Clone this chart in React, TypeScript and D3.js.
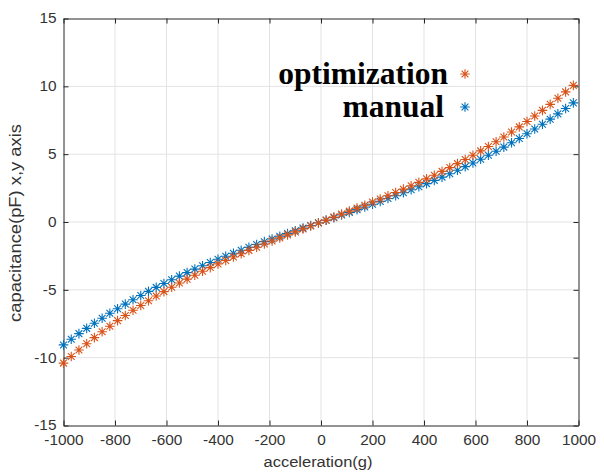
import { useEffect, useRef } from "react";
import * as d3 from "d3";

// acceleration samples (g)
const accel: number[] = [
  -1000, -970, -940, -910, -880, -850, -820, -790, -760, -730, -700, -670,
  -640, -610, -580, -550, -520, -490, -460, -430, -400, -370, -340, -310,
  -280, -250, -220, -190, -160, -130, -100, -70, -40, -10, 20, 50, 80, 110,
  140, 170, 200, 230, 260, 290, 320, 350, 380, 410, 440, 470, 500, 530, 560,
  590, 620, 650, 680, 710, 740, 770, 800, 830, 860, 890, 920, 950, 980,
];

// capacitance (pF), optimization design
const optimization: number[] = [
  -10.4, -9.91, -9.43, -8.97, -8.52, -8.09, -7.68, -7.27, -6.89, -6.51, -6.15,
  -5.8, -5.46, -5.13, -4.81, -4.5, -4.21, -3.92, -3.63, -3.36, -3.09, -2.84,
  -2.58, -2.34, -2.09, -1.86, -1.62, -1.4, -1.17, -0.95, -0.73, -0.51, -0.29,
  -0.07, 0.14, 0.36, 0.58, 0.8, 1.02, 1.24, 1.47, 1.7, 1.94, 2.17, 2.42, 2.67,
  2.92, 3.18, 3.45, 3.73, 4.01, 4.3, 4.61, 4.92, 5.24, 5.57, 5.91, 6.27, 6.63,
  7.01, 7.41, 7.81, 8.23, 8.67, 9.12, 9.59, 10.07,
];

// capacitance (pF), manual design
const manual: number[] = [
  -9.06, -8.64, -8.23, -7.84, -7.46, -7.09, -6.73, -6.39, -6.05, -5.73, -5.42,
  -5.11, -4.82, -4.53, -4.26, -3.99, -3.73, -3.47, -3.23, -2.99, -2.75, -2.52,
  -2.3, -2.08, -1.87, -1.66, -1.45, -1.25, -1.05, -0.85, -0.65, -0.45, -0.26,
  -0.06, 0.13, 0.32, 0.52, 0.71, 0.91, 1.11, 1.31, 1.52, 1.73, 1.94, 2.16,
  2.38, 2.6, 2.83, 3.07, 3.31, 3.56, 3.81, 4.08, 4.35, 4.63, 4.92, 5.21, 5.52,
  5.84, 6.16, 6.5, 6.85, 7.21, 7.58, 7.97, 8.37, 8.78,
];

const xTicks = [-1000, -800, -600, -400, -200, 0, 200, 400, 600, 800, 1000];
const yTicks = [-15, -10, -5, 0, 5, 10, 15];
const legendLabels = ["optimization", "manual"];

const RED = "#D95319";
const BLUE = "#0072BD";
const AXIS = "#262626";

const App = () => {
  const svgRef = useRef<SVGSVGElement>(null);

  useEffect(() => {
    const width = 604;
    const height = 472;
    const margin = { top: 18.5, right: 25.5, bottom: 46.5, left: 63.5 };
    const innerWidth = width - margin.left - margin.right;
    const innerHeight = height - margin.top - margin.bottom;

    d3.select(svgRef.current).selectAll("*").remove();

    const svg = d3
      .select(svgRef.current)
      .attr("width", width)
      .attr("height", height);

    svg.append("rect").attr("width", width).attr("height", height).attr("fill", "#fff");

    const g = svg
      .append("g")
      .attr("transform", `translate(${margin.left},${margin.top})`);

    const x = d3.scaleLinear().domain([-1000, 1000]).range([0, innerWidth]);
    const y = d3.scaleLinear().domain([-15, 15]).range([innerHeight, 0]);

    // grid
    g.append("g")
      .selectAll("line")
      .data(xTicks.slice(1, -1))
      .enter()
      .append("line")
      .attr("x1", (d) => x(d))
      .attr("x2", (d) => x(d))
      .attr("y1", 0)
      .attr("y2", innerHeight)
      .attr("stroke", "#e3e3e3")
      .attr("stroke-width", 1);

    g.append("g")
      .selectAll("line")
      .data(yTicks.slice(1, -1))
      .enter()
      .append("line")
      .attr("x1", 0)
      .attr("x2", innerWidth)
      .attr("y1", (d) => y(d))
      .attr("y2", (d) => y(d))
      .attr("stroke", "#e3e3e3")
      .attr("stroke-width", 1);

    // box + inward ticks
    const tick = 5;
    const fmt = (d: any) => String(d); // plain hyphen minus, like the original
    const axisStyle = (sel: any) => {
      sel.select(".domain").attr("stroke", AXIS);
      sel.selectAll(".tick line").attr("stroke", AXIS);
      sel.selectAll("text")
        .style("fill", "#333")
        .style("font-family", "Arial, 'Liberation Sans', sans-serif")
        .style("font-size", "14px");
    };

    g.append("g")
      .attr("transform", `translate(0,${innerHeight})`)
      .call(d3.axisBottom(x).tickValues(xTicks).tickSizeInner(-tick).tickSizeOuter(0).tickPadding(10).tickFormat(fmt))
      .call(axisStyle)
      .selectAll("text")
      .attr("transform", "scale(1.1,1)");

    g.append("g")
      .call(d3.axisTop(x).tickValues(xTicks).tickSizeInner(-tick).tickSizeOuter(0).tickFormat(() => ""))
      .call(axisStyle);

    g.append("g")
      .call(d3.axisLeft(y).tickValues(yTicks).tickSizeInner(-tick).tickSizeOuter(0).tickFormat(fmt))
      .call(axisStyle)
      .selectAll("text")
      .attr("transform", "scale(1.1,1)")
      .attr("x", -7 / 1.1);

    g.append("g")
      .attr("transform", `translate(${innerWidth},0)`)
      .call(d3.axisRight(y).tickValues(yTicks).tickSizeInner(-tick).tickSizeOuter(0).tickFormat(() => ""))
      .call(axisStyle);

    // asterisk marker
    const r = 4.8;
    const k = 3.4;
    const star = `M${-r},0H${r}M0,${-r}V${r}M${-k},${-k}L${k},${k}M${-k},${k}L${k},${-k}`;

    const drawSeries = (vals: number[], color: string) => {
      g.append("g")
        .selectAll("path")
        .data(vals)
        .enter()
        .append("path")
        .attr("transform", (d, i) => `translate(${x(accel[i])},${y(d)})`)
        .attr("d", star)
        .attr("fill", "none")
        .attr("stroke", color)
        .attr("stroke-width", 1.1);
    };

    drawSeries(manual, BLUE);
    drawSeries(optimization, RED);

    // legend
    const legendColors = [RED, BLUE];
    const legendY = [74, 107];
    const legendEnd = [448, 444];
    legendLabels.forEach((label, i) => {
      svg
        .append("text")
        .attr("x", legendEnd[i])
        .attr("y", legendY[i])
        .attr("dy", "0.32em")
        .attr("text-anchor", "end")
        .style("font-family", "'Liberation Serif', 'Times New Roman', serif")
        .style("font-weight", "bold")
        .style("font-size", "31.5px")
        .style("fill", "#000")
        .text(label);
      svg
        .append("path")
        .attr("transform", `translate(465,${legendY[i]})`)
        .attr("d", star)
        .attr("fill", "none")
        .attr("stroke", legendColors[i])
        .attr("stroke-width", 1.1);
    });

    // axis labels
    svg
      .append("text")
      .attr("transform", `translate(${margin.left + innerWidth / 2 - 3},467) scale(1.1,1)`)
      .attr("text-anchor", "middle")
      .style("font-family", "Arial, 'Liberation Sans', sans-serif")
      .style("font-size", "15px")
      .style("fill", "#333")
      .text("acceleration(g)");

    svg
      .append("text")
      .attr("transform", `translate(21,223) rotate(-90) scale(1.08,1)`)
      .attr("text-anchor", "middle")
      .style("font-family", "Arial, 'Liberation Sans', sans-serif")
      .style("font-size", "17px")
      .style("fill", "#333")
      .text("capacitance(pF) x,y axis");
  }, []);

  return (
    <div style={{ position: "absolute", left: 0, top: 0 }}>
      <svg ref={svgRef} style={{ display: "block" }}></svg>
    </div>
  );
};

export default App;
